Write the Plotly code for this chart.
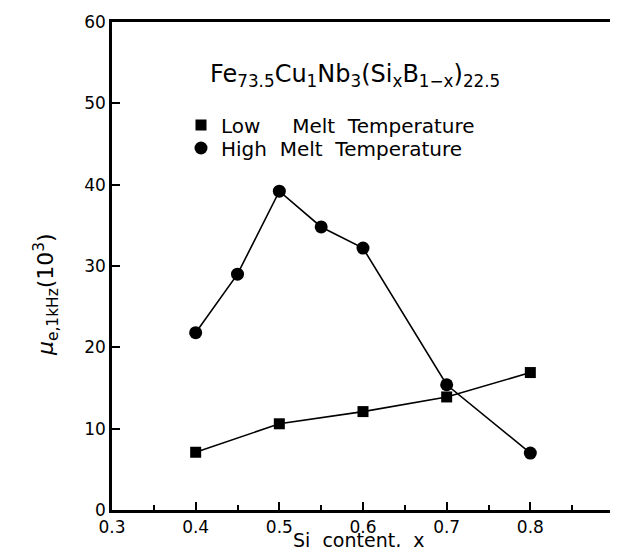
import plotly.graph_objects as go

si_low = [0.4, 0.5, 0.6, 0.7, 0.8]
mu_low = [7.1, 10.6, 12.1, 13.9, 16.9]
si_high = [0.4, 0.45, 0.5, 0.55, 0.6, 0.7, 0.8]
mu_high = [21.8, 29.0, 39.2, 34.8, 32.2, 15.4, 7.0]

x_ticks = [0.3, 0.4, 0.5, 0.6, 0.7, 0.8, 0.9]
x_tick_labels = ["0.3", "0.4", "0.5", "0.6", "0.7", "0.8", "0.9"]
y_ticks = [0, 10, 20, 30, 40, 50, 60]
y_tick_labels = ["0", "10", "20", "30", "40", "50", "60"]

W, H = 618, 547
L, R, T, B = 104, 606, 14, 502
FONT = "DejaVu Sans"

def px(x):
    return (x - L) / (R - L)

def py(y):
    return (B - y) / (B - T)

fig = go.Figure()
# connecting lines
fig.add_trace(go.Scatter(x=si_low, y=mu_low, mode="lines",
                         line=dict(color="black", width=1.6), showlegend=False, hoverinfo="skip"))
fig.add_trace(go.Scatter(x=si_high, y=mu_high, mode="lines",
                         line=dict(color="black", width=1.6), showlegend=False, hoverinfo="skip"))
# markers
fig.add_trace(go.Scatter(x=si_low, y=mu_low, mode="markers",
                         marker=dict(symbol="square", size=11, color="black"),
                         name="Low&nbsp;&nbsp;&nbsp;&nbsp; Melt&nbsp; Temperature", legend="legend"))
fig.add_trace(go.Scatter(x=si_high, y=mu_high, mode="markers",
                         marker=dict(symbol="circle", size=13, color="black"),
                         name="High&nbsp; Melt&nbsp; Temperature", legend="legend2"))

leg_common = dict(font=dict(family=FONT, size=20, color="black"),
                  bgcolor="rgba(0,0,0,0)", borderwidth=0,
                  xref="paper", yref="paper", xanchor="left", yanchor="middle",
                  itemclick=False, itemdoubleclick=False)

fig.update_layout(
    width=W, height=H,
    paper_bgcolor="white", plot_bgcolor="white",
    margin=dict(l=L, r=W - R, t=T, b=H - B, autoexpand=False),
    font=dict(family=FONT, size=16, color="black"),
    legend=dict(x=px(193 - 20), y=py(117), **leg_common),
    legend2=dict(x=px(193 - 20), y=py(140), **leg_common),
    xaxis=dict(range=[0.3, 0.9], tickvals=x_ticks, ticktext=x_tick_labels,
               ticks="inside", ticklen=8, tickwidth=1.5, tickcolor="black",
               minor=dict(dtick=0.05, tick0=0.3, ticks="inside", ticklen=5, tickwidth=1.5, tickcolor="black", showgrid=False),
               showline=True, linewidth=2.5, linecolor="black", mirror=True,
               showgrid=False, zeroline=False, tickangle=0,
               tickfont=dict(family=FONT, size=17, color="black")),
    yaxis=dict(range=[0, 60], tickvals=y_ticks, ticktext=y_tick_labels,
               ticks="inside", ticklen=8, tickwidth=1.5, tickcolor="black",
               showline=True, linewidth=2.5, linecolor="black", mirror=True,
               showgrid=False, zeroline=False,
               tickfont=dict(family=FONT, size=17, color="black")),
    annotations=[
        dict(text="Fe<sub>73.5</sub>Cu<sub>1</sub>Nb<sub>3</sub>(Si<sub>x</sub>B<sub>1\u2212x</sub>)<sub>22.5</sub>",
             xref="paper", yref="paper", x=px(347), y=py(67), xanchor="center", yanchor="middle",
             showarrow=False, font=dict(family=FONT, size=24, color="black")),
        dict(text="Si&nbsp; content,&nbsp; x", xref="paper", yref="paper",
             x=px(351), y=py(545), xanchor="center", yanchor="bottom",
             showarrow=False, font=dict(family=FONT, size=19, color="black")),
        dict(text="<i>\u03bc</i><sub>e,1kHz</sub>(10<sup>3</sup>)", xref="paper", yref="paper",
             x=px(38), y=py(287), xanchor="center", yanchor="middle", textangle=-90,
             showarrow=False, font=dict(family=FONT, size=22, color="black")),
    ],
)

fig.write_html("out.html")
